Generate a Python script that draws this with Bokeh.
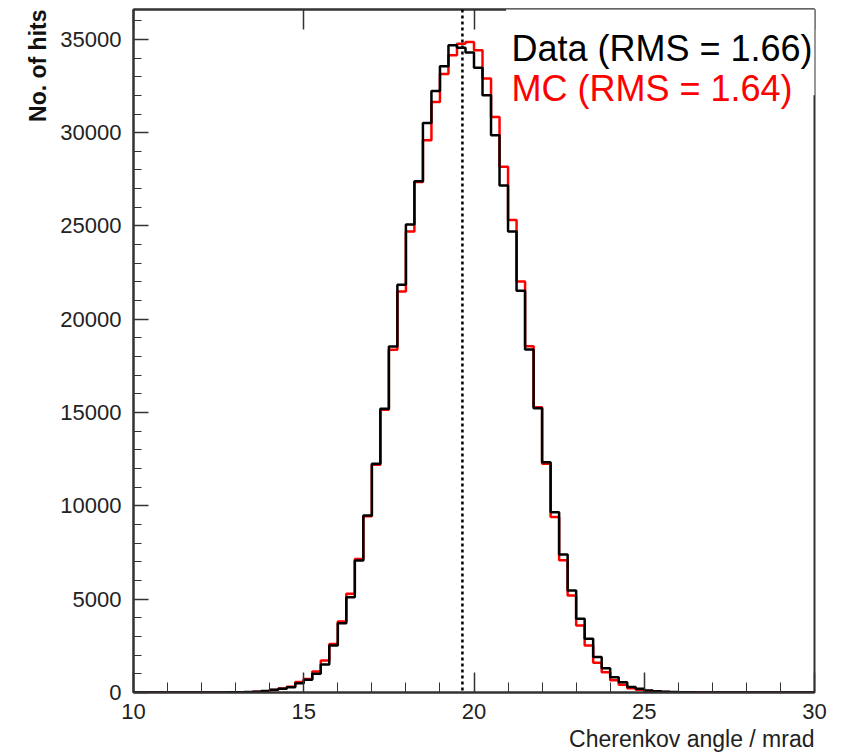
import numpy as np
from bokeh.plotting import figure
from bokeh.models import Span, Label, BoxAnnotation, LinearAxis, Title, FixedTicker, Range1d
from bokeh.embed import file_html
from bokeh.resources import INLINE

# ---- data ----
bin_lo = 10.0
bin_hi = 30.0
n_bins = 80  # 0.25 mrad bins

data_counts = [
    0, 0, 0, 0, 0, 0, 0, 0, 2, 4, 6, 10,
    15, 25, 45, 75, 150, 200, 285, 500,
    680, 1000, 1500, 2520, 3715, 5110, 7075, 9490, 12260, 15200,
    18545, 21850, 25085, 27390, 30515, 32230, 33555, 34680, 34550, 34300,
    33480, 32000, 29855, 27175, 24710, 21530, 18380, 15230, 12345, 9665,
    7400, 5470, 3950, 2880, 1900, 1300, 820, 550, 300, 200,
    107, 65, 40, 25, 15, 10, 6, 4, 2, 1,
    1, 0, 0, 0, 0, 0, 0, 0, 0, 0,
]
mc_counts = [
    0, 0, 0, 0, 0, 0, 0, 0, 1, 3, 5, 8,
    12, 20, 40, 70, 140, 210, 310, 560,
    720, 1120, 1715, 2600, 3800, 5290, 7150, 9450, 12200, 15150,
    18370, 21490, 24710, 27350, 29590, 31640, 33150, 34150, 34770, 34860,
    34410, 32900, 30840, 28170, 25320, 22020, 18550, 15290, 12260, 9400,
    7090, 5200, 3590, 2520, 1600, 1080, 660, 410, 225, 145,
    85, 50, 30, 18, 10, 6, 3, 2, 1, 0,
    0, 0, 0, 0, 0, 0, 0, 0, 0, 0,
]
mean_angle = 19.66
x_ticks = [10, 15, 20, 25, 30]
x_minor = list(range(10, 31))
y_ticks = [0, 5000, 10000, 15000, 20000, 25000, 30000, 35000]
y_minor = list(range(0, 37001, 1000))
legend_texts = ["Data (RMS = 1.66)", "MC (RMS = 1.64)"]

edges = np.linspace(bin_lo, bin_hi, n_bins + 1)

FONT = "Liberation Sans"
AX = "#333333"

p = figure(frame_width=681, frame_height=683,
           x_range=Range1d(10, 30), y_range=Range1d(0, 36600),
           output_backend="svg", toolbar_location=None, title=None,
           min_border_left=133, min_border_right=14, min_border_top=9,
           min_border_bottom=0)
p.xgrid.visible = False
p.ygrid.visible = False
p.background_fill_color = "white"
p.border_fill_color = "white"
p.outline_line_color = AX
p.outline_line_width = 2

# histograms
p.step(edges, list(mc_counts) + [mc_counts[-1]], mode="after",
       line_color="#ff0000", line_width=2.5)
p.step(edges, list(data_counts) + [data_counts[-1]], mode="after",
       line_color="black", line_width=2.5)

p.add_layout(Span(location=mean_angle, dimension="height", line_color="black",
                  line_width=2.5, line_dash="3 3"))

# axes
xa = p.xaxis[0]
xa.ticker = FixedTicker(ticks=x_ticks, minor_ticks=x_minor)
xa.major_tick_in = 20
xa.major_tick_out = 0
xa.minor_tick_in = 10
xa.minor_tick_out = 0
xa.major_label_text_font = FONT
xa.major_label_text_font_size = "22px"
xa.major_label_text_color = "#222222"
xa.major_label_standoff = 11
xa.axis_line_width = 2
xa.axis_line_color = AX
xa.major_tick_line_color = AX
xa.minor_tick_line_color = AX
xa.major_tick_line_width = 1.5

ya = p.yaxis[0]
ya.ticker = FixedTicker(ticks=y_ticks, minor_ticks=y_minor)
ya.major_tick_in = 15
ya.major_tick_out = 0
ya.minor_tick_in = 8
ya.minor_tick_out = 0
ya.major_label_text_font = FONT
ya.major_label_text_font_size = "22px"
ya.major_label_text_color = "#222222"
ya.major_label_standoff = 12
ya.axis_line_width = 2
ya.axis_line_color = AX
ya.major_tick_line_color = AX
ya.minor_tick_line_color = AX
ya.major_tick_line_width = 1.5

top = LinearAxis(ticker=FixedTicker(ticks=x_ticks, minor_ticks=[]),
                 major_tick_in=20, major_tick_out=0,
                 minor_tick_in=0, minor_tick_out=0,
                 major_label_text_alpha=0, major_label_text_font_size="1px",
                 major_label_standoff=0, axis_line_color=AX, axis_line_width=2,
                 major_tick_line_color=AX, major_tick_line_width=1.5)
p.add_layout(top, "above")

p.add_layout(Title(text="Cherenkov angle / mrad", align="right", text_font=FONT,
                   text_font_size="23px", text_font_style="normal",
                   text_color="#222222", standoff=4), "below")
p.add_layout(Title(text="No. of hits", align="right", text_font=FONT,
                   text_font_size="23px", text_font_style="bold",
                   text_color="#111111", standoff=14), "left")

# legend box
p.add_layout(BoxAnnotation(left=20.94, right=30.04, bottom=32000, top=36700,
                           fill_color="white", fill_alpha=1.0, line_color=None,
                           level="overlay"))
p.add_layout(Label(x=21.1, y=34520, text=legend_texts[0], text_font=FONT,
                   text_font_size="36px", text_color="black",
                   text_baseline="alphabetic", level="overlay"))
p.add_layout(Label(x=21.1, y=32375, text=legend_texts[1], text_font=FONT,
                   text_font_size="36px", text_color="#ff0000",
                   text_baseline="alphabetic", level="overlay"))

open("out.html", "w").write(file_html(p, INLINE))
